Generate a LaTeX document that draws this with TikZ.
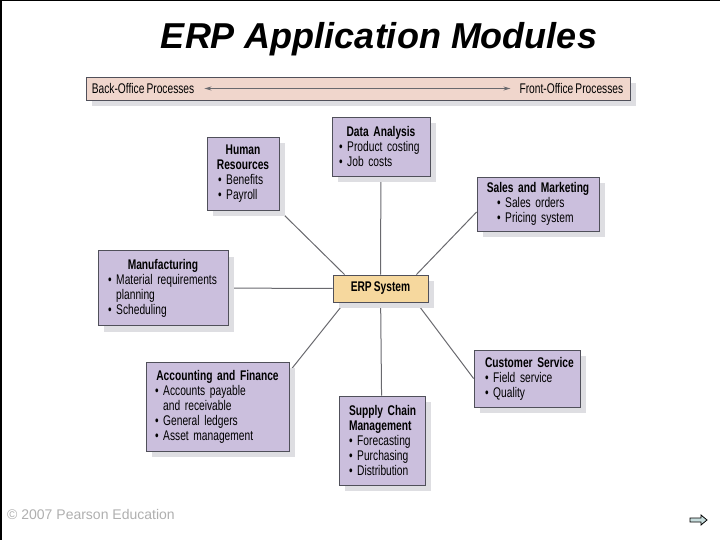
\documentclass[tikz,border=0pt]{standalone}
\usepackage{fontspec}
\setmainfont{Liberation Sans}
\newfontfamily\condfont{Liberation Sans}[FakeStretch=0.73, WordSpace=0.75]
\usetikzlibrary{arrows.meta}
\usetikzlibrary{shadows}
\usetikzlibrary{backgrounds}
\definecolor{mlilac}{RGB}{203,191,221}
\definecolor{mtan}{RGB}{246,216,158}
\definecolor{mpink}{RGB}{240,214,204}
\definecolor{mshade}{RGB}{222,222,226}
\definecolor{mline}{RGB}{105,105,110}
\definecolor{medge}{RGB}{80,80,90}
\definecolor{mgrey}{RGB}{175,175,175}
\definecolor{mcyan}{RGB}{200,222,222}
\tikzset{shade/.style = {drop shadow={shadow xshift=6pt, shadow yshift=-6pt,
                                      fill=mshade, opacity=1}}}
\tikzset{module/.style = {draw=medge, fill=mlilac, line width=0.8pt, shade,
                          font=\condfont\fontsize{14}{15}\selectfont,
                          align=left, inner ysep=0pt}}
\tikzset{link/.style = {draw=mline, line width=1pt}}
\newcommand{\hd}[1]{\makebox[\linewidth]{\bfseries #1}}
\newcommand{\hl}[1]{\makebox[\linewidth][l]{\bfseries #1}}
\newcommand{\itm}[1]{\mbox{\textbullet\ #1}}

\begin{document}
\begin{tikzpicture}[x=1pt, y=-1pt]
      \useasboundingbox (0, 0) rectangle (720, 540);
      \fill [black] (0, 0) rectangle (720, 1.5);
      \fill [black] (0, 0) rectangle (2, 540);
      \node [anchor=base, font=\fontsize{36}{40}\selectfont\bfseries\itshape] (title) at (379, 49) {ERP Application Modules};
      % office bar
      \node [draw=medge, fill=mpink, line width=0.8pt, shade, minimum width=544pt, minimum height=23pt] (bar) at (358, 88.5) {};
      \node [anchor=west, inner sep=0pt, font=\condfont\fontsize{14}{15}\selectfont] (back) at ([xshift=6pt]bar.west) {Back-Office Processes};
      \node [anchor=east, inner sep=0pt, font=\condfont\fontsize{14}{15}\selectfont] (front) at ([xshift=-7pt]bar.east) {Front-Office Processes};
      \draw [{Stealth[length=7pt, width=4pt]}-{Stealth[length=7pt, width=4pt]}, mline, line width=0.9pt, shorten <=10pt, shorten >=9pt] (back) -- (front);
      % modules
      \node [module, text width=50pt, inner xsep=11pt, minimum height=73pt] (hr) at (243, 173.5)
            {\hd{Human}\\ \hd{Resources}\\ \itm{Benefits}\\ \itm{Payroll}};
      \node [module, text width=84pt, inner xsep=7pt, minimum height=59pt] (da) at (381, 146.5)
            {\hd{Data Analysis}\\ \itm{Product costing}\\ \itm{Job costs}};
      \node [module, text width=82pt, inner xsep=20pt, minimum height=54pt] (sm) at (538, 204)
            {\hd{Sales and Marketing}\\ \itm{Sales orders}\\ \itm{Pricing system}};
      \node [module, text width=110pt, inner xsep=10pt, minimum height=75pt] (mf) at (163, 288)
            {\hd{Manufacturing}\\ \itm{Material requirements}\\ \phantom{\textbullet\ }planning\\ \itm{Scheduling}};
      \node [module, fill=mtan, inner sep=0pt, minimum width=95pt, minimum height=27pt] (erp) at (380.5, 288.5)
            {\bfseries ERP System};
      \node [module, text width=125pt, inner xsep=9pt, minimum height=89pt] (af) at (217.5, 406.5)
            {\hd{Accounting and Finance}\\ \itm{Accounts payable}\\ \phantom{\textbullet\ }and receivable\\ \itm{General ledgers}\\ \itm{Asset management}};
      \node [module, text width=66pt, inner xsep=10pt, minimum height=89pt] (sc) at (382, 440.5)
            {\hl{Supply Chain}\\ \hl{Management}\\ \itm{Forecasting}\\ \itm{Purchasing}\\ \itm{Distribution}};
      \node [module, text width=84pt, inner xsep=11pt, minimum height=57pt] (cs) at (527, 378.5)
            {\hl{Customer Service}\\ \itm{Field service}\\ \itm{Quality}};
      % spokes
      \begin{scope}[on background layer]
        \draw [link] (hr.south east) -- ([xshift=12pt]erp.north west);
        \draw [link] (da) -- (erp);
        \draw [link] ([yshift=-8pt]sm.west) -- ([xshift=-12pt]erp.north east);
        \draw [link] (mf) -- (erp);
        \draw [link] ([yshift=-10pt]af.north east) -- ([xshift=12pt]erp.south west);
        \draw [link] (sc) -- (erp);
        \draw [link] (cs.west) -- ([xshift=-12pt]erp.south east);
      \end{scope}
      % footer
      \node [anchor=base west, inner sep=0pt, text=mgrey, font=\fontsize{14}{16}\selectfont] (copy) at (7, 519) {\textcopyright{} 2007 Pearson Education};
      \filldraw [fill=mcyan, draw=black, line width=0.8pt] (690, 518) -- (701, 518) -- (701, 515) -- (707, 520) -- (701, 525) -- (701, 522) -- (690, 522) -- cycle;
    \end{tikzpicture}
\end{document}
